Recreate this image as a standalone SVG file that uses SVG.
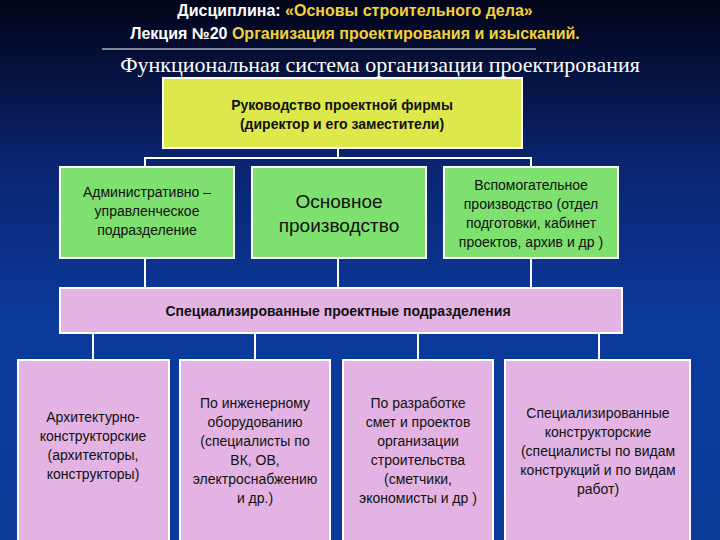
<svg xmlns="http://www.w3.org/2000/svg" width="720" height="540" viewBox="0 0 720 540">
<defs>
<linearGradient id="bg" x1="0" y1="0" x2="0" y2="1">
<stop offset="0" stop-color="#020418"/><stop offset="0.3" stop-color="#0b2470"/><stop offset="0.6" stop-color="#0a3a9c"/><stop offset="1" stop-color="#0b3a98"/>
</linearGradient>
</defs>
<style>
.b{stroke:#ffffff;stroke-width:2}
.y{fill:#dde84a}.g{fill:#7ee06e}.p{fill:#e2b3e3}
.t{font-family:"Liberation Sans",Arial,sans-serif;font-size:14px;fill:#111;text-anchor:middle}
.c{stroke:#ffffff;stroke-width:2;fill:none}
</style>
<rect width="720" height="540" fill="url(#bg)"/>
<text x="355" y="16" font-family="Liberation Sans,Arial,sans-serif" font-weight="bold" font-size="16" text-anchor="middle"><tspan fill="#fff">Дисциплина:   </tspan><tspan fill="#f2d23a">«Основы строительного дела»</tspan></text>
<text x="355" y="39" font-family="Liberation Sans,Arial,sans-serif" font-weight="bold" font-size="16" text-anchor="middle"><tspan fill="#fff">Лекция №20  </tspan><tspan fill="#f2d23a">Организация проектирования и изысканий.</tspan></text>
<line x1="102" y1="49" x2="536" y2="49" stroke="#fff" stroke-width="1"/>
<text x="380" y="72" font-family="Liberation Serif,Times New Roman,serif" font-size="22" fill="#fff" text-anchor="middle">Функциональная система организации проектирования</text>
<g id="connectors">
<path class="c" d="M338 148V158M145 167V158H531V167M145 258V288M338 258V288M531 258V288"/>
<path class="c" d="M93 333V360M255 333V360M418 333V360M599 333V360"/>
</g>
<g id="n1"><rect class="b y" x="163" y="78" width="359" height="70"/><text class="t" x="342" y="110" font-weight="bold">Руководство проектной фирмы</text><text class="t" x="342" y="129" font-weight="bold">(директор и его заместители)</text></g>
<g id="n2"><rect class="b g" x="60" y="167" width="174" height="91"/><text class="t" x="147" y="197">Административно –</text><text class="t" x="147" y="216">управленческое</text><text class="t" x="147" y="235">подразделение</text></g>
<g id="n3"><rect class="b g" x="252" y="167" width="174" height="91"/><text class="t" x="339" y="208" style="font-size:19px">Основное</text><text class="t" x="339" y="232" style="font-size:19px">производство</text></g>
<g id="n4"><rect class="b g" x="444" y="167" width="174" height="91"/><text class="t" x="531" y="190">Вспомогательное</text><text class="t" x="531" y="209">производство (отдел</text><text class="t" x="531" y="228">подготовки, кабинет</text><text class="t" x="531" y="247">проектов, архив и др )</text></g>
<g id="n5"><rect class="b p" x="60" y="288" width="562" height="45"/><text class="t" x="338" y="316" font-weight="bold">Специализированные проектные подразделения</text></g>
<g id="n6"><rect class="b p" x="18" y="360" width="151" height="182"/><text class="t" x="93" y="422">Архитектурно-</text><text class="t" x="93" y="441">конструкторские</text><text class="t" x="93" y="460">(архитекторы,</text><text class="t" x="93" y="479">конструкторы)</text></g>
<g id="n7"><rect class="b p" x="180" y="360" width="150" height="182"/><text class="t" x="255" y="408">По инженерному</text><text class="t" x="255" y="427">оборудованию</text><text class="t" x="255" y="446">(специалисты по</text><text class="t" x="255" y="465">ВК, ОВ,</text><text class="t" x="255" y="484">электроснабжению</text><text class="t" x="255" y="503">и др.)</text></g>
<g id="n8"><rect class="b p" x="343" y="360" width="150" height="182"/><text class="t" x="418" y="408">По разработке</text><text class="t" x="418" y="427">смет и проектов</text><text class="t" x="418" y="446">организации</text><text class="t" x="418" y="465">строительства</text><text class="t" x="418" y="484">(сметчики,</text><text class="t" x="418" y="503">экономисты и др )</text></g>
<g id="n9"><rect class="b p" x="505" y="360" width="185" height="182"/><text class="t" x="598" y="418">Специализированные</text><text class="t" x="598" y="437">конструкторские</text><text class="t" x="598" y="456">(специалисты по видам</text><text class="t" x="598" y="475">конструкций и по видам</text><text class="t" x="598" y="494">работ)</text></g>
</svg>
